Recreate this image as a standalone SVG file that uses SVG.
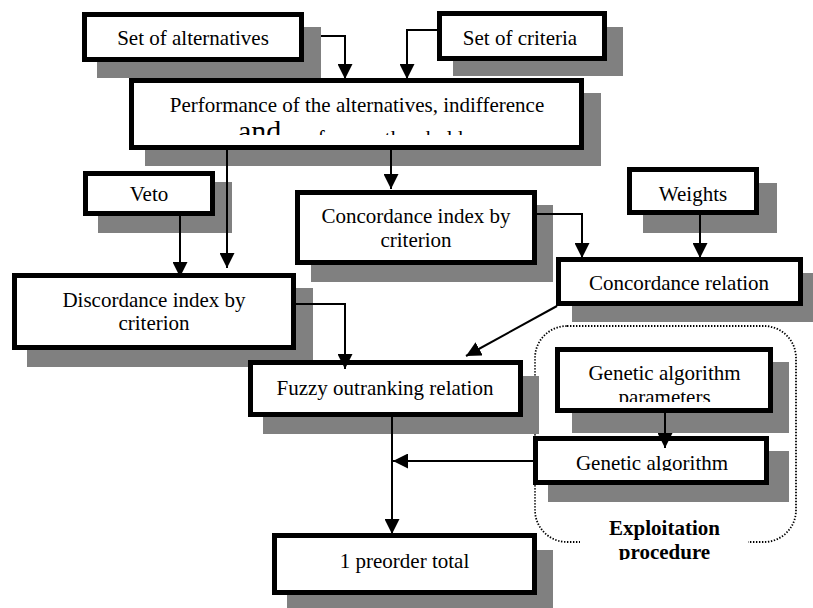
<svg xmlns="http://www.w3.org/2000/svg" width="813" height="608" viewBox="0 0 813 608">
<style>
.sh{fill:#808080}
.bx{fill:#fff;stroke:#000;stroke-width:5}
.t{font-family:"Liberation Serif","Times New Roman",serif;font-size:21px;fill:#000;text-anchor:middle}
.s{text-anchor:start}
.big{font-size:30px}
.b{font-weight:bold}
.c{fill:none;stroke:#000;stroke-width:2}
.dot{fill:none;stroke:#000;stroke-width:1.8;stroke-dasharray:1.4 1.6}
</style>
<defs>
<marker id="ah" markerUnits="userSpaceOnUse" markerWidth="15" markerHeight="15" refX="15" refY="7.5" orient="auto">
<path d="M0,0 L15,7.5 L0,15 z" fill="#000"/>
</marker>
<clipPath id="cp1"><rect x="129" y="78" width="455" height="57"/></clipPath>
<clipPath id="cp2"><rect x="555" y="347" width="218" height="55"/></clipPath>
<clipPath id="cp3"><rect x="533" y="436" width="236" height="35"/></clipPath>
<clipPath id="cp4"><rect x="540" y="500" width="250" height="60"/></clipPath>
</defs>

<g id="exploitation">
<rect class="dot" x="535" y="326" width="261" height="216" rx="32" ry="32"/>
<rect x="580" y="536" width="168" height="12" fill="#fff"/>
<text class="t b" x="664.5" y="535">Exploitation</text>
<g clip-path="url(#cp4)"><text class="t b" x="664.5" y="559">procedure</text></g>
</g>

<g id="alternatives">
<rect class="sh" x="97" y="27" width="224" height="51"/>
<rect class="bx" x="84.5" y="14.5" width="217" height="45"/>
<text class="t" x="193" y="45">Set of alternatives</text>
</g>

<g id="criteria">
<rect class="sh" x="453" y="27" width="170" height="49"/>
<rect class="bx" x="439.5" y="13.5" width="165" height="45"/>
<text class="t" x="520" y="45">Set of criteria</text>
</g>

<g id="performance">
<rect class="sh" x="145" y="93" width="456" height="73"/>
<rect class="bx" x="131.5" y="80.5" width="450" height="67"/>
<text class="t" x="357" y="112">Performance of the alternatives, indifference</text>
<g clip-path="url(#cp1)">
<text class="t s big" x="238" y="141">and</text>
<text class="t s" x="291" y="145">preference thresholds</text>
</g>
</g>

<g id="veto">
<rect class="sh" x="98" y="182" width="134" height="51"/>
<rect class="bx" x="85.5" y="173.5" width="127" height="40"/>
<text class="t" x="149" y="201">Veto</text>
</g>

<g id="concordance-index">
<rect class="sh" x="311" y="205" width="242" height="77"/>
<rect class="bx" x="297.5" y="192.5" width="237" height="70"/>
<text class="t" x="416" y="223">Concordance index by</text>
<text class="t" x="416" y="247">criterion</text>
</g>

<g id="weights">
<rect class="sh" x="643" y="183" width="134" height="50"/>
<rect class="bx" x="629.5" y="169.5" width="127" height="43"/>
<text class="t" x="693" y="201">Weights</text>
</g>

<g id="concordance-relation">
<rect class="sh" x="572" y="273" width="246" height="49"/>
<rect class="bx" x="558.5" y="259.5" width="242" height="44"/>
<text class="t" x="679" y="290">Concordance relation</text>
</g>

<g id="discordance">
<rect class="sh" x="27" y="288" width="286" height="79"/>
<rect class="bx" x="14.5" y="275.5" width="279" height="72"/>
<text class="t" x="154" y="307">Discordance index by</text>
<text class="t" x="154" y="330">criterion</text>
</g>

<g id="fuzzy">
<rect class="sh" x="263" y="376" width="276" height="58"/>
<rect class="bx" x="250.5" y="362.5" width="270" height="52"/>
<text class="t" x="385" y="395">Fuzzy outranking relation</text>
</g>

<g id="ga-parameters">
<rect class="sh" x="572" y="362" width="217" height="71"/>
<rect class="bx" x="557.5" y="349.5" width="213" height="61"/>
<text class="t" x="664.5" y="380">Genetic algorithm</text>
<g clip-path="url(#cp2)"><text class="t" x="664.5" y="404">parameters</text></g>
</g>

<g id="ga">
<rect class="sh" x="548" y="451" width="241" height="51"/>
<rect class="bx" x="535.5" y="438.5" width="231" height="44"/>
<g clip-path="url(#cp3)"><text class="t" x="652" y="469.5">Genetic algorithm</text></g>
</g>

<g id="total">
<rect class="sh" x="287" y="550" width="266" height="62"/>
<rect class="bx" x="274.5" y="535.5" width="260" height="57"/>
<text class="t" x="404.5" y="568">1 preorder total</text>
</g>

<g id="connectors">
<polyline class="c" points="321,36 345,36 345,79" marker-end="url(#ah)"/>
<polyline class="c" points="437,30 407,30 407,79" marker-end="url(#ah)"/>
<line class="c" x1="227" y1="150" x2="227" y2="268" marker-end="url(#ah)"/>
<line class="c" x1="391" y1="150" x2="391" y2="189" marker-end="url(#ah)"/>
<line class="c" x1="180" y1="216" x2="180" y2="277" marker-end="url(#ah)"/>
<polyline class="c" points="537,214 582,214 582,258" marker-end="url(#ah)"/>
<line class="c" x1="700" y1="215" x2="700" y2="258" marker-end="url(#ah)"/>
<line class="c" x1="557" y1="306" x2="466" y2="356" marker-end="url(#ah)"/>
<polyline class="c" points="296,304 345,304 345,369" marker-end="url(#ah)"/>
<line class="c" x1="392" y1="417" x2="392" y2="534" marker-end="url(#ah)"/>
<line class="c" x1="533" y1="461" x2="393" y2="461" marker-end="url(#ah)"/>
<line class="c" x1="665" y1="413" x2="665" y2="448" marker-end="url(#ah)"/>
</g>
</svg>
